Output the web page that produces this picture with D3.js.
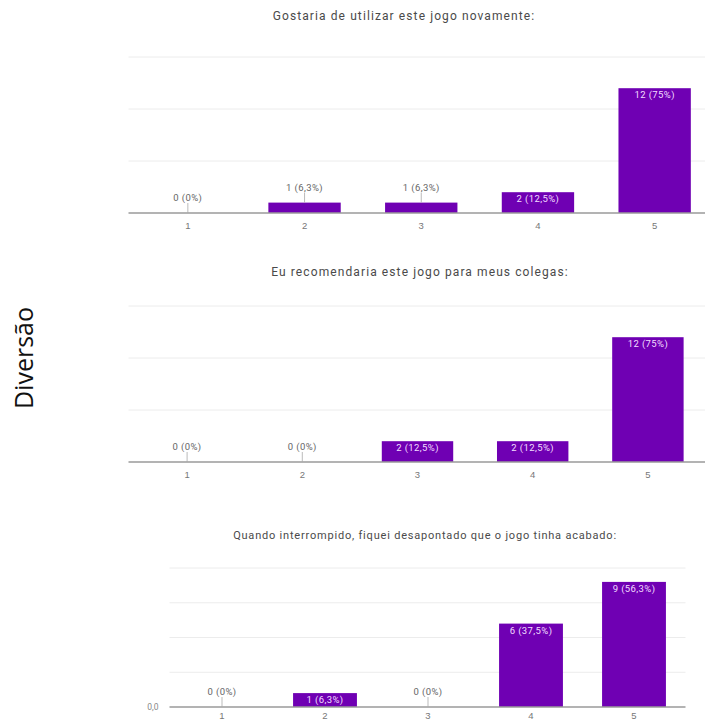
<!DOCTYPE html>
<html lang="pt">
<head>
  <meta charset="UTF-8">
  <title>Diversão</title>
  <script src="https://d3js.org/d3.v7.min.js"></script>
  <style>
    body { margin: 0; background: #fff; }
    svg { display: block; font-family: Roboto, Arial, sans-serif; }
    .grid line { stroke: #ececec; stroke-width: 1; }
    .axis path, .axis line { display: none; }
    .axis text { fill: #777; font-size: 9.5px; }
  </style>
</head>
<body>
  <svg id="chart" width="705" height="724"></svg>
  <script>
    // Respostas (escala 1 a 5), total de 16 alunos
    const categories = ['1', '2', '3', '4', '5'];
    const total = 16;

    const titles = [
      'Gostaria de utilizar este jogo novamente:',
      'Eu recomendaria este jogo para meus colegas:',
      'Quando interrompido, fiquei desapontado que o jogo tinha acabado:'
    ];

    const countsQ1 = [0, 1, 1, 2, 12];
    const countsQ2 = [0, 0, 2, 2, 12];
    const countsQ3 = [0, 1, 0, 6, 9];

    const gridQ1 = [5, 10, 15];
    const gridQ2 = [5, 10, 15];
    const gridQ3 = [2.5, 5, 7.5, 10];

    const purple = '#6f00b3';
    const svg = d3.select('#chart');

    // layout of each panel
    const panels = [
      { title: titles[0], counts: countsQ1, grid: gridQ1, max: 15, x0: 129.5, x1: 713, base: 213, top: 57, titleX: 404, titleY: 20, titleSize: 12, titleSpacing: 1.1, tickPad: 7, zeroLabel: false },
      { title: titles[1], counts: countsQ2, grid: gridQ2, max: 15, x0: 129.5, x1: 705.5, base: 462, top: 306, titleX: 420, titleY: 276, titleSize: 12, titleSpacing: 1.1, tickPad: 7, zeroLabel: false },
      { title: titles[2], counts: countsQ3, grid: gridQ3, max: 10, x0: 170.5, x1: 685.5, base: 707, top: 568, titleX: 425, titleY: 539, titleSize: 11, titleSpacing: 0.8, tickPad: 3, zeroLabel: true }
    ];

    const fmtPct = v => {
      const p = Math.round(v / total * 1000) / 10;
      return String(p).replace('.', ',') + '%';
    };

    panels.forEach(p => {
      const x = d3.scaleBand().domain(categories).range([p.x0, p.x1]).paddingInner(0.38).paddingOuter(0.19);
      const y = d3.scaleLinear().domain([0, p.max]).range([p.base, p.top]);
      const g = svg.append('g');

      g.append('text')
        .attr('x', p.titleX)
        .attr('y', p.titleY)
        .attr('text-anchor', 'middle')
        .attr('fill', '#4a4a4a')
        .attr('font-size', p.titleSize)
        .attr('letter-spacing', p.titleSpacing)
        .text(p.title);

      // gridlines
      g.append('g').attr('class', 'grid')
        .selectAll('line')
        .data(p.grid)
        .join('line')
        .attr('x1', p.x0 - 1)
        .attr('x2', p.x1)
        .attr('y1', d => y(d))
        .attr('y2', d => y(d));

      // bars
      g.selectAll('rect')
        .data(p.counts)
        .join('rect')
        .attr('x', (d, i) => x(categories[i]))
        .attr('width', x.bandwidth())
        .attr('y', d => y(d))
        .attr('height', d => p.base - y(d))
        .attr('fill', purple);

      // baseline
      g.append('line')
        .attr('x1', p.x0 - 1).attr('x2', p.x1)
        .attr('y1', p.base).attr('y2', p.base)
        .attr('stroke', '#9a9a9a').attr('stroke-width', 1.5);

      // value labels
      p.counts.forEach((d, i) => {
        const cx = x(categories[i]) + x.bandwidth() / 2;
        const label = d + ' (' + fmtPct(d) + ')';
        const h = p.base - y(d);
        if (h >= 12) {
          g.append('text')
            .attr('x', cx).attr('y', y(d) + 10)
            .attr('text-anchor', 'middle')
            .attr('fill', '#f2dcff')
            .attr('font-size', 9.5)
            .attr('letter-spacing', 0.4)
            .text(label);
        } else {
          g.append('line')
            .attr('x1', cx).attr('x2', cx)
            .attr('y1', y(d) - 10).attr('y2', y(d))
            .attr('stroke', '#aaa').attr('stroke-width', 0.8);
          g.append('text')
            .attr('x', cx).attr('y', y(d) - 12)
            .attr('text-anchor', 'middle')
            .attr('fill', '#666')
            .attr('font-size', 9.5)
            .attr('letter-spacing', 0.4)
            .text(label);
        }
      });

      g.append('g').attr('class', 'axis')
        .attr('transform', `translate(0, ${p.base + 2})`)
        .call(d3.axisBottom(x).tickSize(0).tickPadding(p.tickPad));

      if (p.zeroLabel) {
        g.append('text')
          .attr('x', p.x0 - 12).attr('y', p.base + 3)
          .attr('text-anchor', 'end')
          .attr('fill', '#888')
          .attr('font-size', 8.5)
          .text('0,0');
      }
    });

    svg.append('text')
      .attr('transform', 'translate(33, 358) rotate(-90)')
      .attr('text-anchor', 'middle')
      .attr('font-family', '"Open Sans", "Noto Sans", sans-serif')
      .attr('font-size', 25)
      .attr('fill', '#111')
      .text('Diversão');
  </script>
</body>
</html>
